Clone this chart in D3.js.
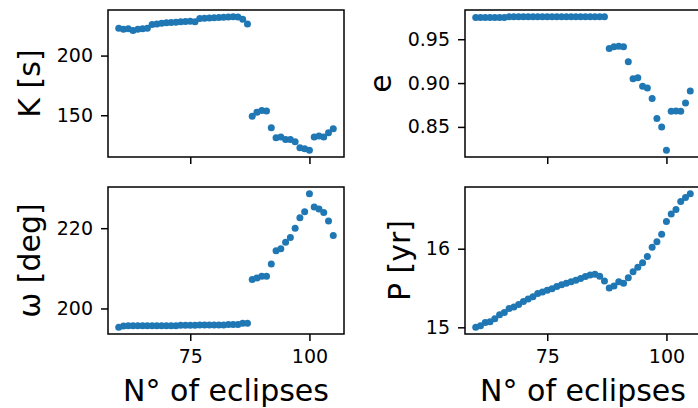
<!DOCTYPE html>
<meta charset="utf-8" />
<script src="https://d3js.org/d3.v7.js"></script>
<style>
  body { margin: 0; background: white; }
  text { font-family: "DejaVu Sans", sans-serif; fill: #000; }
</style>
<div id="my_dataviz_div"></div>
<script>
  // eclipse number of each fit
  const eclipses = [
    60, 61, 62, 63, 64, 65, 66, 67, 68, 69, 70, 71, 72, 73, 74, 75, 76, 77,
    78, 79, 80, 81, 82, 83, 84, 85, 86, 87, 88, 89, 90, 91, 92, 93, 94, 95,
    96, 97, 98, 99, 100, 101, 102, 103, 104, 105,
  ];

  // K [s]
  const kValues = [
    223, 222, 222.5, 221, 222, 222.5, 223, 226, 226.5, 227, 227.5, 227.8, 228,
    228.3, 228.5, 228.8, 228.3, 231, 231.3, 231.5, 231.7, 232, 232.2, 232.4,
    232.6, 232.3, 230.5, 226.5,
    149.2, 152.5, 154, 153.5, 139.5, 131.2, 131.7, 129.7, 129.7, 127.8, 122.8,
    122, 120.6, 131.7, 132.5, 131.7, 135.3, 138.7,
  ];

  // e
  const eValues = [
    0.9748, 0.9748, 0.9748, 0.9748, 0.9748, 0.9748, 0.9748, 0.9757, 0.9757,
    0.9757, 0.9757, 0.9757, 0.9757, 0.9757, 0.9757, 0.9757, 0.9757, 0.9757,
    0.9757, 0.9757, 0.9757, 0.9757, 0.9757, 0.9757, 0.9757, 0.9757, 0.9757,
    0.9757,
    0.9394, 0.9413, 0.942, 0.9413, 0.9242, 0.905, 0.906, 0.8965, 0.8945,
    0.8823, 0.8595, 0.85, 0.8233, 0.8678, 0.868, 0.8678, 0.8774, 0.891,
  ];

  // omega [deg]
  const omegaValues = [
    195.3, 195.6, 195.7, 195.7, 195.7, 195.7, 195.7, 195.7, 195.7, 195.7,
    195.7, 195.7, 195.7, 195.8, 195.8, 195.8, 195.8, 195.9, 195.9, 195.9,
    195.9, 195.9, 195.9, 196.0, 196.0, 196.0, 196.3, 196.3,
    207.2, 207.6, 208.0, 208.0, 211.1, 214.4, 214.9, 216.5, 217.7, 220.0,
    222.6, 224.1, 228.6, 225.3, 224.8, 223.9, 221.8, 218.2,
  ];

  // P [yr]
  const periodValues = [
    15.0, 15.02, 15.06, 15.07, 15.11, 15.16, 15.19, 15.24, 15.26, 15.29,
    15.33, 15.36, 15.39, 15.43, 15.45, 15.47, 15.49, 15.52, 15.54, 15.56,
    15.58, 15.6, 15.62, 15.645, 15.665, 15.675, 15.65, 15.59,
    15.5, 15.525, 15.58, 15.56, 15.63, 15.706, 15.765, 15.82, 15.9, 16.017,
    16.09, 16.185, 16.345, 16.44, 16.5, 16.6, 16.65, 16.7,
  ];

  const xTicks = [75, 100];
  const kTicks = [150, 200];
  const eTicks = [0.85, 0.9, 0.95];
  const omegaTicks = [200, 220];
  const periodTicks = [15, 16];

  const width = 698;
  const height = 408;
  const panel_wd = 236;
  const panel_ht = 147;
  const dotColor = "#1f77b4";

  const svg = d3
    .select("#my_dataviz_div")
    .append("svg")
    .attr("width", width)
    .attr("height", height);

  // matplotlib-like 5% margin on the data limits
  function paddedDomain(vals) {
    var ext = d3.extent(vals);
    var m = (ext[1] - ext[0]) * 0.05;
    return [ext[0] - m, ext[1] + m];
  }

  function drawPanel(left, top, values, yTicks, yFormat, yLabel, labelX, showXLabels) {
    var g = svg.append("g").attr("transform", `translate(${left},${top})`);

    var x = d3.scaleLinear().domain(paddedDomain(eclipses)).range([0, panel_wd]);
    var y = d3.scaleLinear().domain(paddedDomain(values)).range([panel_ht, 0]);

    var xAxis = g
      .append("g")
      .attr("transform", `translate(0,${panel_ht})`)
      .call(
        d3.axisBottom(x)
          .tickValues(xTicks)
          .tickSize(7)
          .tickPadding(9)
          .tickFormat(showXLabels ? d3.format("d") : "")
      );

    var yAxis = g
      .append("g")
      .call(
        d3.axisLeft(y)
          .tickValues(yTicks)
          .tickSize(7)
          .tickPadding(8)
          .tickFormat(d3.format(yFormat))
      );

    [xAxis, yAxis].forEach(function (a) {
      a.select(".domain").remove();
      a.selectAll("line").attr("stroke", "#000").attr("stroke-width", 1.5);
      a.selectAll("text")
        .attr("font-size", 19)
        .attr("font-family", "DejaVu Sans")
        .attr("fill", "#000");
    });

    g.append("g")
      .selectAll("circle")
      .data(eclipses)
      .enter()
      .append("circle")
      .attr("cx", (d) => x(d))
      .attr("cy", (d, i) => y(values[i]))
      .attr("r", 3.5)
      .attr("fill", dotColor);

    // frame
    g.append("rect")
      .attr("width", panel_wd)
      .attr("height", panel_ht)
      .attr("fill", "none")
      .attr("stroke", "#000")
      .attr("stroke-width", 1.5);

    svg
      .append("text")
      .attr("transform", `translate(${labelX},${top + panel_ht / 2}) rotate(-90)`)
      .attr("text-anchor", "middle")
      .attr("font-size", 30)
      .text(yLabel);

    if (showXLabels) {
      svg
        .append("text")
        .attr("x", left + panel_wd / 2)
        .attr("y", 401)
        .attr("text-anchor", "middle")
        .attr("font-size", 30)
        .text("N° of eclipses");
    }
  }

  drawPanel(108, 10, kValues, kTicks, "d", "K [s]", 40, false);
  drawPanel(465, 10, eValues, eTicks, ".2f", "e", 391, false);
  drawPanel(108, 187, omegaValues, omegaTicks, "d", "ω [deg]", 40, true);
  drawPanel(465, 187, periodValues, periodTicks, "d", "P [yr]", 410, true);
</script>
